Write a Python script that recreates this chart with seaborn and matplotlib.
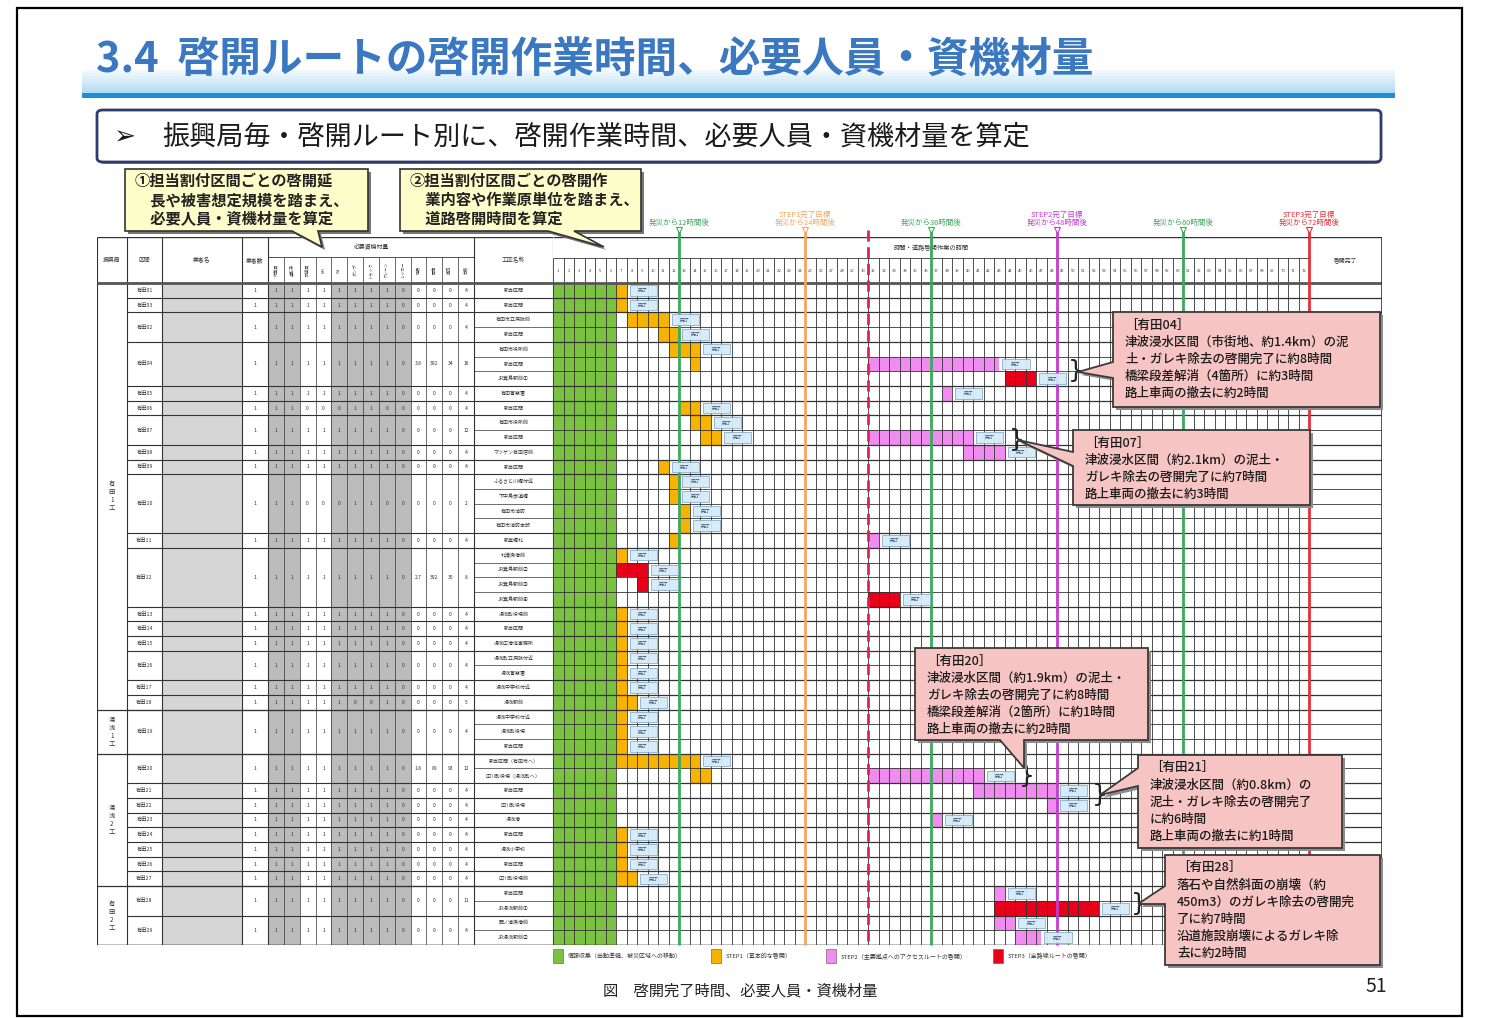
import matplotlib
matplotlib.use("Agg")
import matplotlib.pyplot as plt
import seaborn as sns
import pandas as pd
import numpy as np
from matplotlib.patches import Rectangle, Polygon, FancyBboxPatch

# ---------------------------------------------------------------- data
title_text = "3.4  啓開ルートの啓開作業時間、必要人員・資機材量"
lead_arrow = "➢"
lead_text = "振興局毎・啓開ルート別に、啓開作業時間、必要人員・資機材量を算定"
note1_lines = ["①担当割付区間ごとの啓開延", "　長や被害想定規模を踏まえ、", "　必要人員・資機材量を算定"]
note2_lines = ["②担当割付区間ごとの啓開作", "　業内容や作業原単位を踏まえ、", "　道路啓開時間を算定"]
caption_text = "図　啓開完了時間、必要人員・資機材量"
page_number = "51"

col_headers = ["振興局", "区間", "業者名", "業者数", "工区名称"]
equip_title = "必要資機材量"
equip_headers = ["作業員", "運転手", "誘導員", "BH", "WL", "ダンプ", "トラック", "クレーン",
                 "レッカー", "延長", "面積", "車両", "台数"]
gantt_title = "時間・道路啓開作業の時間"
done_header = "啓開完了"
done_text = "完了"

office_names = ["有田1工", "湯浅1工", "湯浅2工", "有田2工"]
office_rows = [29, 3, 9, 4]

route_ids = ["有田01", "有田03", "有田02", "有田04", "有田05", "有田06", "有田07", "有田08",
             "有田09", "有田10", "有田11", "有田12", "有田13", "有田14", "有田15", "有田16",
             "有田17", "有田18", "有田19", "有田20", "有田21", "有田22", "有田23", "有田24",
             "有田25", "有田26", "有田27", "有田28", "有田29"]
route_rows = [1, 1, 2, 3, 1, 1, 2, 1, 1, 4, 1, 4, 1, 1, 1, 2, 1, 1, 3, 2, 1, 1, 1, 1, 1, 1, 1, 2, 2]
route_crews = ["1", "1", "1", "1", "1", "1", "1", "1", "1", "1", "1", "1", "1", "1", "1",
               "1", "1", "1", "1", "1", "1", "1", "1", "1", "1", "1", "1", "1", "1"]
route_equip = [
    "1 1 1 1 1 1 1 1 0 0 0 0 4", "1 1 1 1 1 1 1 1 0 0 0 0 4", "1 1 1 1 1 1 1 1 0 0 0 0 4",
    "1 1 1 1 1 1 1 1 0 3.8 392 34 16", "1 1 1 1 1 1 1 1 0 0 0 0 4", "1 1 0 0 0 1 1 0 0 0 0 0 4",
    "1 1 1 1 1 1 1 1 0 0 0 0 12", "1 1 1 1 1 1 1 1 0 0 0 0 4", "1 1 1 1 1 1 1 1 0 0 0 0 4",
    "1 1 0 0 0 1 1 0 0 0 0 0 2", "1 1 1 1 1 1 1 1 0 0 0 0 4", "1 1 1 1 1 1 1 1 0 2.7 392 30 8",
    "1 1 1 1 1 1 1 1 0 0 0 0 4", "1 1 1 1 1 1 1 1 0 0 0 0 4", "1 1 1 1 1 1 1 1 0 0 0 0 4",
    "1 1 1 1 1 1 1 1 0 0 0 0 4", "1 1 1 1 1 1 1 1 0 0 0 0 4", "1 1 1 1 1 0 0 1 0 0 0 0 5",
    "1 1 1 1 1 1 1 1 0 0 0 0 4", "1 1 1 1 1 1 1 1 0 1.8 89 93 12", "1 1 1 1 1 1 1 1 0 0 0 0 4",
    "1 1 1 1 1 1 1 1 0 0 0 0 4", "1 1 1 1 1 1 1 1 0 0 0 0 4", "1 1 1 1 1 1 1 1 0 0 0 0 4",
    "1 1 1 1 1 1 1 1 0 0 0 0 4", "1 1 1 1 1 1 1 1 0 0 0 0 4", "1 1 1 1 1 1 1 1 0 0 0 0 4",
    "1 1 1 1 1 1 1 1 0 0 0 0 11", "1 1 1 1 1 1 1 1 0 0 0 0 4"]

section_names = ["新当区間", "新当区間", "有田市立病院前", "新当区間", "有田市役所前", "新当区間",
                 "JR箕島駅前①", "有田警察署", "新当区間", "有田市役所前", "新当区間",
                 "マツゲン有田店前", "新当区間", "ふるさと川橋付近", "下中島歩道橋", "有田市消防",
                 "有田市消防本部", "新堂橋北", "北湊漁港前", "JR箕島駅前②", "JR箕島駅前③",
                 "JR箕島駅前④", "湯浅町役場前", "新当区間", "湯浅広港湾事務所", "湯浅町立病院付近",
                 "湯浅警察署", "湯浅中学校付近", "湯浅駅前", "湯浅中学校付近", "湯浅町役場",
                 "新当区間", "新当区間（有田市へ）", "広川町役場（湯浅町へ）", "新当区間", "広川町役場",
                 "湯浅港", "新当区間", "湯浅小学校", "新当区間", "広川町役場前", "新当区間",
                 "JR湯浅駅前①", "西ノ浦漁港前", "JR湯浅駅前②"]

hour_labels = [str(h) for h in range(1, 73)]

# information gathering block (hours from disaster) for every table row
prep_end = [6, 6, 6, 6, 6, 6, 6, 6, 6, 6, 6, 6, 6, 6, 6, 6, 6, 6, 6, 6, 6, 6, 6,
            6, 6, 6, 6, 6, 6, 6, 6, 6, 6, 6, 6, 6, 6, 6, 6, 6, 6, 6, 6, 6, 6]

bar_row = [0, 1, 2, 3, 4, 5, 5, 6, 7, 8, 9, 10, 10, 11, 12, 13, 14, 15, 16, 17, 17, 18, 19, 20,
           21, 22, 23, 24, 25, 26, 27, 28, 29, 30, 31, 32, 33, 33, 34, 35, 36, 37, 38, 39, 40,
           41, 42, 43, 44]
bar_start = [6, 6, 7, 10, 11, 13, 30, 43, 37, 12, 13, 14, 30, 39, 10, 11, 11, 12, 12, 11, 30, 6, 6, 8,
             30, 6, 6, 6, 6, 6, 6, 6, 6, 6, 6, 6, 13, 30, 40, 47, 36, 6, 6, 6, 6,
             42, 42, 42, 44]
bar_end = [7, 7, 11, 12, 14, 14, 42.5, 46, 38, 14, 15, 16, 40, 43, 11, 12, 12, 13, 13, 12, 31, 7, 9, 9,
           33, 7, 7, 7, 7, 7, 7, 8, 7, 7, 7, 14, 15, 41, 48, 48, 37, 7, 7, 7, 8,
           43, 52, 44, 46.5]
bar_step = ["S1", "S1", "S1", "S1", "S1", "S1", "S2", "S3", "S2", "S1", "S1", "S1", "S2", "S2",
            "S1", "S1", "S1", "S1", "S1", "S1", "S2", "S1", "S3", "S3",
            "S3", "S1", "S1", "S1", "S1", "S1", "S1", "S1", "S1", "S1", "S1", "S1", "S1", "S2",
            "S2", "S2", "S2", "S1", "S1", "S1", "S1",
            "S2", "S3", "S2", "S2"]
bar_done = [1, 1, 1, 1, 1, 0, 1, 1, 1, 1, 1, 1, 1, 1, 1, 1, 1, 1, 1, 0, 1, 1, 1, 1,
            1, 1, 1, 1, 1, 1, 1, 1, 1, 1, 1, 1, 0, 1, 1, 1, 1, 1, 1, 1, 1,
            1, 1, 1, 1]

milestone_hours = [12, 24, 30, 36, 48, 60, 72]
milestone_labels = ["発災から12時間後", "STEP1完了目標\n発災から24時間後", "", "発災から36時間後",
                    "STEP2完了目標\n発災から48時間後", "発災から60時間後", "STEP3完了目標\n発災から72時間後"]

legend_labels = ["情報収集（出動準備、被災区域への移動）", "STEP1（基本的な啓開）",
                 "STEP2（主要拠点へのアクセスルートの啓開）", "STEP3（全路線ルートの啓開）"]

callout_texts = [
    ["［有田04］", "津波浸水区間（市街地、約1.4km）の泥", "土・ガレキ除去の啓開完了に約8時間",
     "橋梁段差解消（4箇所）に約3時間", "路上車両の撤去に約2時間"],
    ["［有田07］", "津波浸水区間（約2.1km）の泥土・", "ガレキ除去の啓開完了に約7時間",
     "路上車両の撤去に約3時間"],
    ["［有田20］", "津波浸水区間（約1.9km）の泥土・", "ガレキ除去の啓開完了に約8時間",
     "橋梁段差解消（2箇所）に約1時間", "路上車両の撤去に約2時間"],
    ["［有田21］", "津波浸水区間（約0.8km）の", "泥土・ガレキ除去の啓開完了", "に約6時間",
     "路上車両の撤去に約1時間"],
    ["［有田28］", "落石や自然斜面の崩壊（約", "450m3）のガレキ除去の啓開完", "了に約7時間",
     "沿道施設崩壊によるガレキ除", "去に約2時間"],
]
brace_hour = [49.0, 43.4, 44.4, 51.3, 55.0]
brace_row = [6.0, 10.7, 33.5, 34.8, 42.2]

# ---------------------------------------------------------------- style
GREEN_BLOCK = "#7cc242"
STEP_COLORS = {"S1": "#f6b300", "S2": "#f08cf0", "S3": "#e8001a"}
ML_COLORS = ["#3aaa5c", "#f2a562", "#e0205a", "#3aaa5c", "#c43ccf", "#3aaa5c", "#e8303a"]
ML_STYLES = ["-", "-", (0, (4, 2)), "-", "-", "-", "-"]
LEGEND_COLORS = [GREEN_BLOCK, STEP_COLORS["S1"], STEP_COLORS["S2"], STEP_COLORS["S3"]]
PINK_BOX = "#f7c4c4"
YELLOW_BOX = "#fdfdc9"
GRID = "#333333"

sns.set_theme(style="white")
plt.rcParams['font.family'] = ['Noto Sans CJK JP', 'DejaVu Sans']

W, H = 1490, 1018
fig = plt.figure(figsize=(W / 100, H / 100), dpi=100)
fig.patch.set_facecolor("white")


def fx(x):
    return x / W


def fy(y):
    return 1 - y / H


def prect(x0, y0, x1, y1, **kw):
    r = Rectangle((fx(x0), fy(y1)), (x1 - x0) / W, (y1 - y0) / H, transform=fig.transFigure, **kw)
    fig.add_artist(r)
    return r


def ppoly(pts, **kw):
    p = Polygon([(fx(x), fy(y)) for x, y in pts], closed=True, transform=fig.transFigure, **kw)
    fig.add_artist(p)
    return p


# slide frame
prect(17, 8, 1462, 1016, fill=False, ec="black", lw=1.6, zorder=1)

# title
for i, a in enumerate(np.linspace(0.15, 0.8, 8)):
    prect(82, 70 + i * 3, 1395, 73 + i * 3, fc="#9fd3f1", ec="none", alpha=a, zorder=1)
prect(82, 93, 1395, 98, fc="#1e8fd6", ec="none", zorder=2)
fig.text(fx(96), fy(61), title_text, fontsize=30, fontweight="bold", color="#3b78c2",
         va="center", ha="left", zorder=3)

# lead box
lead = FancyBboxPatch((fx(99), fy(164)), (1282) / W, (52) / H,
                      boxstyle="round,pad=0,rounding_size=0.004", transform=fig.transFigure,
                      fc="#8a8a8a", ec="none", zorder=1)
fig.add_artist(lead)
lead = FancyBboxPatch((fx(97), fy(162)), (1284) / W, (52) / H,
                      boxstyle="round,pad=0,rounding_size=0.004", transform=fig.transFigure,
                      fc="white", ec="#2d3c6c", lw=2, zorder=2)
fig.add_artist(lead)
fig.text(fx(113), fy(137), lead_arrow, fontsize=19, color="#1a1a1a", va="center", ha="left",
         fontfamily="DejaVu Sans", fontweight="bold", zorder=3)
fig.text(fx(162), fy(137), lead_text, fontsize=19.5, color="#1a1a1a", va="center", ha="left", zorder=3)


# yellow notes
def note(x0, y0, x1, y1, base_a, base_b, tip, lines):
    pts = [(x0, y0), (x1, y0), (x1, y1), (base_b, y1), tip, (base_a, y1), (x0, y1)]
    ppoly([(x + 3, y + 3) for x, y in pts], fc="#777777", ec="none", zorder=6)
    ppoly(pts, fc=YELLOW_BOX, ec="#333333", lw=1.2, zorder=7)
    for k, s in enumerate(lines):
        fig.text(fx(x0 + 10), fy(y0 + 12 + k * 19), s, fontsize=11, fontweight="bold",
                 color="#222222", va="center", ha="left", zorder=8)


note(125, 169, 368, 231, 292, 318, (322, 247), note1_lines)
note(400, 169, 641, 231, 548, 574, (604, 247), note2_lines)

# ---------------------------------------------------------------- axes
TOP, BOT = 237, 945
ROWS = 45
ROW_PX = (BOT - 283) / ROWS
HEAD = (283 - TOP) / ROW_PX


def prow(y):
    return (y - 283) / ROW_PX


ax_t = fig.add_axes([fx(97), fy(BOT), (553 - 97) / W, (BOT - TOP) / H])
ax_t.set_xlim(97, 553)
ax_t.set_ylim(ROWS, -HEAD)
ax_t.axis("off")

HOUR_PX = 10.5
GX1 = (1382 - 553) / HOUR_PX
ax_g = fig.add_axes([fx(553), fy(BOT), (1382 - 553) / W, (BOT - TOP) / H])
ax_g.set_xlim(0, GX1)
ax_g.set_ylim(ROWS, -HEAD)
ax_g.axis("off")

# ---- left table
col_edges = [97, 127, 162, 242, 268, 474, 553]
sub_w = (474 - 268) / len(equip_headers)
sub_edges = [268 + k * sub_w for k in range(len(equip_headers) + 1)]
shaded = [0, 1, 4, 5, 6, 7, 8]

ax_t.add_patch(Rectangle((163, 0), 242 - 163, ROWS, fc="#d6d6d6", ec="none", zorder=1))
for k in shaded:
    ax_t.add_patch(Rectangle((sub_edges[k], 0), sub_w, ROWS, fc="#bcbcbc", ec="none", zorder=1))

sub_top = prow(257)
ax_t.vlines(col_edges, -HEAD, ROWS, color=GRID, lw=0.8, zorder=3)
ax_t.vlines(sub_edges[1:-1], sub_top, ROWS, color=GRID, lw=0.5, zorder=3)
ax_t.hlines(sub_top, 268, 474, color=GRID, lw=0.6, zorder=3)
ax_t.hlines([-HEAD, ROWS], 97, 553, color=GRID, lw=1.0, zorder=3)
ax_t.hlines(0, 97, 553, color="#555555", lw=2.0, zorder=3)

# headers
hdr_centers = [(97 + 127) / 2, (127 + 162) / 2, (162 + 242) / 2, (242 + 268) / 2, (474 + 553) / 2]
for cx, s in zip(hdr_centers, col_headers):
    ax_t.text(cx, prow(260), s, fontsize=4.2, ha="center", va="center", color="#333333")
ax_t.text((268 + 474) / 2, prow(247), equip_title, fontsize=4.2, ha="center", va="center", color="#333333")
for k, s in enumerate(equip_headers):
    ax_t.text(sub_edges[k] + sub_w / 2, prow(270), s, fontsize=3.0, ha="center", va="center",
              rotation=90, color="#444444")

# region column
r0 = 0
for name, n in zip(office_names, office_rows):
    ax_t.text((97 + 127) / 2, r0 + n / 2, "\n".join(list(name)), fontsize=4.5, ha="center",
              va="center", linespacing=1.0, color="#333333")
    r0 += n
    ax_t.hlines(r0, 97, 553, color=GRID, lw=0.9, zorder=3)

# routes
r0 = 0
for rid, n, crew, eq in zip(route_ids, route_rows, route_crews, route_equip):
    cy = r0 + n / 2
    ax_t.text((127 + 162) / 2, cy, rid, fontsize=3.8, ha="center", va="center", color="#333333")
    ax_t.text((242 + 268) / 2, cy, crew, fontsize=3.8, ha="center", va="center", color="#333333")
    for k, v in enumerate(eq.split()):
        ax_t.text(sub_edges[k] + sub_w / 2, cy, v, fontsize=3.6, ha="center", va="center", color="#333333")
    r0 += n
    ax_t.hlines(r0, 127, 553, color=GRID, lw=0.8, zorder=3)

# section names (one per row)
ax_t.hlines(np.arange(1, ROWS), 474, 553, color=GRID, lw=0.5, zorder=3)
for i, s in enumerate(section_names):
    ax_t.text((474 + 553) / 2, i + 0.5, s, fontsize=3.6, ha="center", va="center", color="#333333")

# ---- gantt
ax_g.barh(np.arange(ROWS) + 0.5, prep_end, left=0, height=1.0, color=GREEN_BLOCK, lw=0, zorder=1)

bars = pd.DataFrame({"row": bar_row, "start": bar_start, "end": bar_end, "step": bar_step, "done": bar_done})
for step, sub in bars.groupby("step"):
    ax_g.barh(sub["row"] + 0.5, sub["end"] - sub["start"], left=sub["start"], height=1.0,
              color=STEP_COLORS[step], lw=0, zorder=2)

head_split = prow(258)
ax_g.vlines(np.arange(0, 73), head_split, ROWS, color=GRID, lw=0.6, zorder=3)
ax_g.vlines(72, -HEAD, ROWS, color=GRID, lw=0.8, zorder=3)
ax_g.hlines(np.arange(0, ROWS + 1), 0, GX1, color=GRID, lw=0.6, zorder=3)
ax_g.hlines(head_split, 0, 72, color=GRID, lw=0.6, zorder=3)
ax_g.hlines([-HEAD, ROWS], 0, GX1, color=GRID, lw=1.0, zorder=3)
ax_g.hlines(0, 0, GX1, color="#555555", lw=2.0, zorder=3)
ax_g.vlines(GX1, -HEAD, ROWS, color=GRID, lw=1.2, zorder=3)
grp = np.cumsum(route_rows)
ax_g.hlines(grp, 0, GX1, color=GRID, lw=0.9, zorder=3)

for h, s in enumerate(hour_labels):
    ax_g.text(h + 0.5, prow(271), s, fontsize=3.0, ha="center", va="center", color="#444444")
ax_g.text(36, prow(248), gantt_title, fontsize=4.5, ha="center", va="center", color="#333333")
ax_g.text((72 + GX1) / 2, prow(260), done_header, fontsize=4.2, ha="center", va="center", color="#333333")

# done boxes
for _, b in bars[bars["done"] == 1].iterrows():
    ax_g.add_patch(Rectangle((b["end"] + 0.3, b["row"] + 0.14), 2.6, 0.72, fc="#d4ebf8", ec="#86a9c8",
                             lw=0.6, zorder=6, alpha=0.95))
    ax_g.text(b["end"] + 1.6, b["row"] + 0.52, done_text, fontsize=3.6, ha="center", va="center",
              color="#3a4a6a", zorder=7)

# milestone lines
tri_y = prow(230)
for h, s, c, ls in zip(milestone_hours, milestone_labels, ML_COLORS, ML_STYLES):
    ax_g.vlines(h, tri_y, ROWS, color=c, lw=2.0, linestyles=[ls], zorder=5, clip_on=False)
    if s:
        ax_g.plot([h], [tri_y], marker="v", ms=4, mfc="white", mec=c, mew=0.8, clip_on=False, zorder=6)
        ax_g.text(h, prow(227), s, fontsize=5.4, ha="center", va="bottom", color=c,
                  linespacing=1.1, clip_on=False)

# braces
for bh, br in zip(brace_hour, brace_row):
    ax_g.text(bh, br, "}", fontsize=18, ha="left", va="center", color="#222222",
              fontfamily="DejaVu Sans", zorder=8, clip_on=False)


# pink callouts
def callout(x0, y0, x1, y1, side, base_a, base_b, tip, lines):
    if side == "left":
        pts = [(x0, y0), (x1, y0), (x1, y1), (x0, y1), (x0, base_b), tip, (x0, base_a)]
    else:
        pts = [(x0, y0), (x1, y0), (x1, y1), (base_b, y1), tip, (base_a, y1), (x0, y1)]
    ppoly([(x + 3, y + 3) for x, y in pts], fc="#8c8c8c", ec="none", zorder=9)
    ppoly(pts, fc=PINK_BOX, ec="#3a3a3a", lw=1.3, zorder=10)
    for k, s in enumerate(lines):
        fig.text(fx(x0 + 12), fy(y0 + 13 + k * 17), s, fontsize=9, color="#1a1a1a",
                 fontweight="medium", va="center", ha="left", zorder=11)


callout(1113, 312, 1380, 407, "left", 362, 378, (1078, 372), callout_texts[0])
callout(1073, 430, 1310, 505, "left", 452, 466, (1018, 440), callout_texts[1])
callout(915, 648, 1148, 740, "bottom", 1000, 1024, (1024, 768), callout_texts[2])
callout(1138, 755, 1342, 848, "left", 768, 786, (1100, 795), callout_texts[3])
callout(1165, 855, 1380, 965, "left", 886, 904, (1138, 904), callout_texts[4])

# legend
leg_x = [553, 711, 826, 993]
for x, c, s in zip(leg_x, LEGEND_COLORS, legend_labels):
    prect(x, 949, x + 10, 963, fc=c, ec="#555555", lw=0.4, zorder=3)
    fig.text(fx(x + 15), fy(956), s, fontsize=4.3, color="#333333", va="center", ha="left")

fig.text(fx(740), fy(991), caption_text, fontsize=11, color="#222222", va="center", ha="center")
fig.text(fx(1376), fy(986), page_number, fontsize=14, color="#222222", va="center", ha="center")

fig.savefig("out.png", dpi=100, facecolor="white")
